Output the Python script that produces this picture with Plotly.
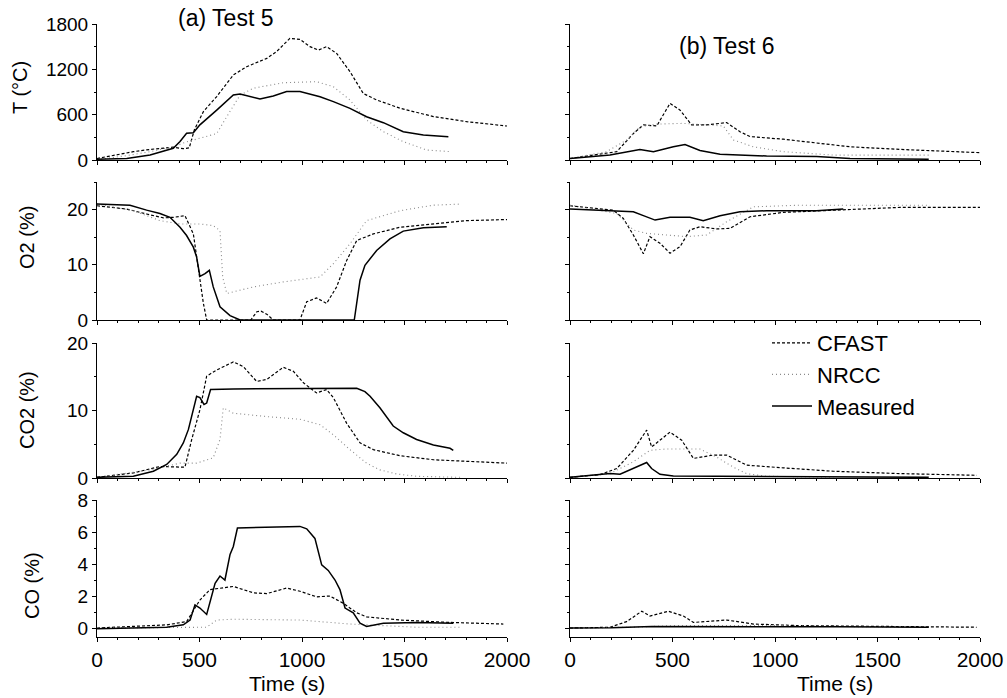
import plotly.graph_objects as go

# ---------------- Test 5 ----------------
t5_T_cfast_t = [0,177,259,372,420,450,475,519,584,665,730,828,876,941,990,1039,1080,1120,1169,1234,1299,1364,1478,1641,1803,2000]
t5_T_cfast   = [20,110,140,170,150,160,400,640,840,1125,1235,1345,1435,1610,1597,1500,1455,1500,1410,1170,880,795,685,575,507,450]
t5_T_nrcc_t  = [0,150,259,372,437,502,584,633,698,763,909,1071,1153,1234,1315,1397,1494,1608,1730]
t5_T_nrcc    = [5,60,110,175,240,285,350,573,860,950,1023,1037,970,794,530,375,243,132,110]
t5_T_meas_t  = [0,145,259,340,372,405,437,470,502,584,665,698,795,860,925,990,1055,1088,1153,1234,1315,1397,1494,1592,1714]
t5_T_meas    = [10,20,65,130,155,245,355,360,465,660,860,873,807,847,905,905,860,838,772,684,573,494,375,330,309]

t5_O2_cfast_t = [0,145,242,324,372,429,470,494,519,535,750,780,800,830,860,990,1023,1071,1120,1169,1218,1267,1348,1478,1641,1803,2000]
t5_O2_cfast   = [20.7,20.1,19.2,18.5,18.6,18.9,15.6,9.0,3.0,0.0,0.0,1.5,1.6,1.0,0.0,0.0,3.3,4.0,3.0,6.0,10.8,14.4,15.6,16.8,17.4,18.0,18.2]
t5_O2_nrcc_t  = [0,177,307,405,502,567,600,613,633,763,909,1088,1153,1234,1315,1478,1641,1771]
t5_O2_nrcc    = [21.0,19.8,18.0,17.4,17.4,17.1,16.2,7.8,4.8,6.0,6.9,7.8,10.2,13.8,18.0,19.8,20.8,21.0]
t5_O2_meas_t  = [0,161,242,307,356,405,437,470,486,502,527,548,567,600,649,698,1255,1283,1307,1364,1429,1494,1592,1706]
t5_O2_meas    = [21.0,20.8,19.9,19.3,18.6,16.8,15.3,13.2,11.4,7.9,8.4,9.0,6.0,2.4,0.8,0.0,0.0,7.2,9.9,12.6,14.7,16.1,16.7,16.9]

t5_CO2_cfast_t = [0,177,307,372,429,462,502,535,584,665,714,779,828,909,958,1007,1071,1120,1153,1218,1283,1348,1478,1641,1803,2000]
t5_CO2_cfast   = [0.1,0.75,1.7,1.6,1.6,5.7,10.1,15.1,16.0,17.2,16.5,14.3,14.6,16.4,15.8,14.1,12.6,13.1,11.9,8.1,5.2,4.2,3.3,2.7,2.5,2.2]
t5_CO2_nrcc_t  = [0,259,405,486,567,600,616,665,828,990,1088,1153,1234,1315,1380,1462,1559,1771]
t5_CO2_nrcc    = [0.1,1.2,2.2,2.2,3.0,5.7,10.4,9.6,9.1,8.7,7.9,6.4,4.2,2.2,1.2,0.6,0.25,0.1]
t5_CO2_meas_t  = [0,177,275,340,389,421,446,470,486,502,522,535,554,665,990,1267,1307,1332,1380,1413,1445,1494,1559,1641,1722,1738]
t5_CO2_meas    = [0.1,0.25,1.0,2.0,3.5,5.2,7.2,10.1,12.1,11.9,10.9,11.1,13.1,13.2,13.3,13.3,12.8,12.1,10.4,9.0,7.7,6.7,5.7,4.9,4.4,4.1]

t5_CO_cfast_t = [0,177,340,437,502,551,665,763,828,925,990,1071,1136,1201,1267,1315,1478,1722,1982]
t5_CO_cfast   = [0,0.1,0.2,0.4,1.75,2.4,2.6,2.2,2.15,2.5,2.3,1.95,2.0,1.55,0.95,0.7,0.5,0.35,0.25]
t5_CO_nrcc_t  = [0,421,535,584,665,990,1153,1234,1397,1559,1771]
t5_CO_nrcc    = [0,0.05,0.05,0.5,0.55,0.5,0.35,0.25,0.15,0.05,0.05]
t5_CO_meas_t  = [0,177,340,421,454,478,502,535,551,576,600,624,649,665,685,828,990,1023,1063,1096,1128,1161,1185,1210,1250,1283,1315,1397,1559,1738]
t5_CO_meas    = [-0.05,0,0.05,0.2,0.5,1.45,1.25,0.85,1.55,2.8,3.25,3.0,4.6,5.1,6.25,6.3,6.35,6.2,5.6,3.95,3.6,3.0,2.4,1.25,0.95,0.3,0.1,0.3,0.35,0.3]

# ---------------- Test 6 ----------------
t6_T_cfast_t = [0,146,228,309,358,423,488,537,593,667,764,829,878,1041,1203,1366,1610,1854,2000]
t6_T_cfast   = [20,80,110,350,465,450,750,660,465,465,495,375,310,275,230,175,140,110,97]
t6_T_nrcc_t  = [0,179,276,341,423,553,667,748,797,894,1041,1285,1528,1756]
t6_T_nrcc    = [20,110,265,440,475,485,465,450,265,175,110,65,65,65]
t6_T_meas_t  = [0,195,341,407,504,561,634,732,959,1203,1366,1750]
t6_T_meas    = [20,65,140,110,175,205,125,75,53,45,20,10]

t6_O2_cfast_t = [0,211,260,309,358,390,439,488,537,585,634,715,780,878,1041,1285,1610,2000]
t6_O2_cfast   = [20.7,19.9,18.4,15.4,12.0,15.1,13.9,12.1,13.3,16.3,16.9,16.5,16.6,18.7,19.5,19.9,20.4,20.4]
t6_O2_nrcc_t  = [0,228,309,374,472,569,667,764,894,1122,1447,1756]
t6_O2_nrcc    = [20.8,19.3,16.3,15.7,15.4,15.1,15.4,17.8,20.5,20.8,20.8,20.8]
t6_O2_meas_t  = [0,211,309,358,415,488,585,650,732,829,959,1203,1333]
t6_O2_meas    = [20.1,19.8,19.6,18.9,18.1,18.6,18.6,18.0,18.9,19.6,19.8,19.8,20.1]

t6_CO2_cfast_t = [0,146,228,309,374,398,488,545,602,699,764,862,1041,1285,1610,1984]
t6_CO2_cfast   = [0.1,0.5,1.4,4.1,7.1,4.6,6.8,5.6,2.9,3.4,3.4,1.9,1.5,1.0,0.65,0.4]
t6_CO2_nrcc_t  = [0,195,309,390,472,634,715,797,862,959,1285]
t6_CO2_nrcc    = [0.1,0.65,2.4,4.1,4.3,4.3,3.1,1.6,0.65,0.25,0.15]
t6_CO2_meas_t  = [0,195,244,309,374,398,439,504,797,1285,1750]
t6_CO2_meas    = [0.1,0.65,0.55,1.4,2.3,1.4,0.55,0.3,0.25,0.15,0.1]

t6_CO_cfast_t = [0,195,276,350,390,480,553,602,764,894,1122,1447,1984]
t6_CO_cfast   = [0,0.05,0.4,1.05,0.75,1.05,0.75,0.35,0.5,0.25,0.15,0.1,0.05]
t6_CO_nrcc_t  = [0,300,500,800,1000,1300,1750]
t6_CO_nrcc    = [0,0.05,0.15,0.15,0.15,0.1,0.05]
t6_CO_meas_t  = [0,200,400,800,1300,1750]
t6_CO_meas    = [0,0.02,0.1,0.1,0.08,0.05]

series_names = ["CFAST", "NRCC", "Measured"]
y_titles = ["T (°C)", "O2 (%)", "CO2 (%)", "CO (%)"]
panel_titles = ["(a) Test 5", "(b) Test 6"]
x_ticks = [0, 500, 1000, 1500, 2000]

W, H = 1007, 698
FONT = "Liberation Sans, Arial, sans-serif"

styles = {
    "CFAST": dict(color="black", width=1.2, dash="3px,2px"),
    "NRCC": dict(color="#8a8a8a", width=1.1, dash="1px,3px"),
    "Measured": dict(color="black", width=1.5),
}

data = [
    [  # test 5
        [(t5_T_cfast_t, t5_T_cfast), (t5_T_nrcc_t, t5_T_nrcc), (t5_T_meas_t, t5_T_meas)],
        [(t5_O2_cfast_t, t5_O2_cfast), (t5_O2_nrcc_t, t5_O2_nrcc), (t5_O2_meas_t, t5_O2_meas)],
        [(t5_CO2_cfast_t, t5_CO2_cfast), (t5_CO2_nrcc_t, t5_CO2_nrcc), (t5_CO2_meas_t, t5_CO2_meas)],
        [(t5_CO_cfast_t, t5_CO_cfast), (t5_CO_nrcc_t, t5_CO_nrcc), (t5_CO_meas_t, t5_CO_meas)],
    ],
    [  # test 6
        [(t6_T_cfast_t, t6_T_cfast), (t6_T_nrcc_t, t6_T_nrcc), (t6_T_meas_t, t6_T_meas)],
        [(t6_O2_cfast_t, t6_O2_cfast), (t6_O2_nrcc_t, t6_O2_nrcc), (t6_O2_meas_t, t6_O2_meas)],
        [(t6_CO2_cfast_t, t6_CO2_cfast), (t6_CO2_nrcc_t, t6_CO2_nrcc), (t6_CO2_meas_t, t6_CO2_meas)],
        [(t6_CO_cfast_t, t6_CO_cfast), (t6_CO_nrcc_t, t6_CO_nrcc), (t6_CO_meas_t, t6_CO_meas)],
    ],
]

# pixel layout
col_px = [(97, 507), (570, 980)]
row_px = [(24, 160), (182, 320), (343, 478), (500, 637)]
y_ranges = [[0, 1800], [0, 25], [0, 20], [-0.56, 8]]
y_major = [[0, 600, 1200, 1800], [0, 10, 20], [0, 10, 20], [0, 2, 4, 6, 8]]
y_minor = [300, 5, 5, 1]

fig = go.Figure()
layout = {}
idx = 0
for c in range(2):
    for r in range(4):
        idx += 1
        xa = "x" if idx == 1 else f"x{idx}"
        ya = "y" if idx == 1 else f"y{idx}"
        for k, name in enumerate(series_names):
            tx, vy = data[c][r][k]
            fig.add_trace(go.Scatter(
                x=tx, y=vy, mode="lines", name=name, line=styles[name],
                xaxis=xa, yaxis=ya,
                showlegend=(c == 1 and r == 2),
            ))
        x0, x1 = col_px[c]
        top, bot = row_px[r]
        xkey = "xaxis" if idx == 1 else f"xaxis{idx}"
        ykey = "yaxis" if idx == 1 else f"yaxis{idx}"
        layout[xkey] = dict(
            domain=[x0 / W, x1 / W], anchor=ya, range=[0, 2000],
            tickvals=x_ticks, showticklabels=(r == 3),
            ticks="outside", ticklen=4, tickcolor="black",
            minor=dict(ticks="outside", ticklen=2, dtick=100, tickcolor="black"),
            showline=True, linecolor="black", linewidth=1,
            showgrid=False, zeroline=False, automargin=False,
            tickfont=dict(family=FONT, size=21, color="black"),
        )
        layout[ykey] = dict(
            domain=[1 - bot / H, 1 - top / H], anchor=xa, range=y_ranges[r],
            tickvals=y_major[r], showticklabels=(c == 0),
            ticks="outside", ticklen=4, tickcolor="black",
            minor=dict(ticks="outside", ticklen=2, dtick=y_minor[r], tickcolor="black"),
            showline=True, linecolor="black", linewidth=1,
            showgrid=False, zeroline=False, automargin=False,
            tickfont=dict(family=FONT, size=19, color="black"),
        )

annotations = []
ytitle_pos = [(20, 88), (27, 238), (27, 410), (32, 586)]
for (xp, yp), txt in zip(ytitle_pos, y_titles):
    annotations.append(dict(
        text=txt, x=xp / W, y=1 - yp / H, xref="paper", yref="paper",
        showarrow=False, textangle=-90, xanchor="center", yanchor="middle",
        font=dict(family=FONT, size=20, color="black"),
    ))
for (xp, yp), txt in zip([(225, 18), (726, 46)], panel_titles):
    annotations.append(dict(
        text=txt, x=xp / W, y=1 - yp / H, xref="paper", yref="paper",
        showarrow=False, xanchor="center", yanchor="middle",
        font=dict(family=FONT, size=23, color="black"),
    ))
for xp in [287, 835]:
    annotations.append(dict(
        text="Time (s)", x=xp / W, y=1 - 683 / H, xref="paper", yref="paper",
        showarrow=False, xanchor="center", yanchor="middle",
        font=dict(family=FONT, size=21, color="black"),
    ))

fig.update_layout(
    **layout,
    width=W, height=H,
    margin=dict(l=0, r=0, t=0, b=0, autoexpand=False),
    paper_bgcolor="white", plot_bgcolor="white",
    annotations=annotations,
    legend=dict(
        x=767 / W, y=1 - 322 / H, xanchor="left", yanchor="top",
        bgcolor="rgba(0,0,0,0)", font=dict(family=FONT, size=22, color="black"),
        tracegroupgap=0, itemwidth=40,
    ),
    showlegend=True,
)

fig.write_html(
    "out.html",
    config={"displayModeBar": False},
    post_script="document.body.style.margin='0';document.body.style.overflow='hidden';",
)
